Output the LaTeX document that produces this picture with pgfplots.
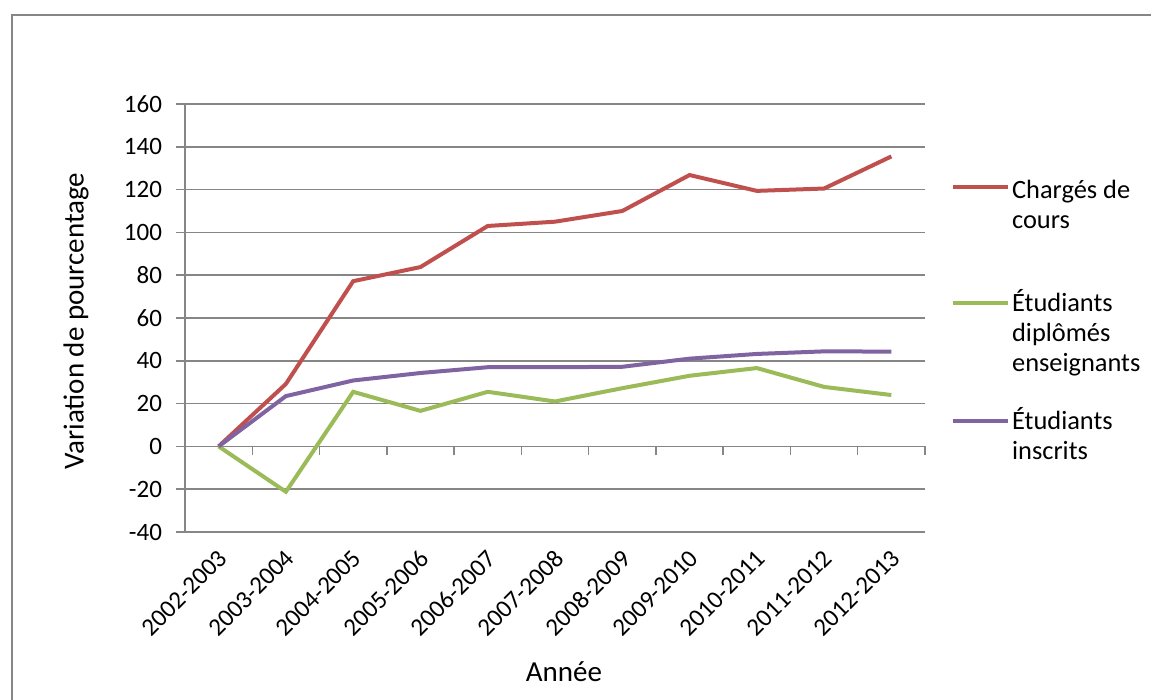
\documentclass[border=0pt]{standalone}
\usepackage{pgfplots}
\pgfplotsset{compat=1.18}
\usepackage{pgfplotstable}
\usepackage{fontspec}
\setmainfont{Carlito}
\definecolor{cred}{HTML}{C0504D}
\definecolor{cgreen}{HTML}{9BBB59}
\definecolor{cpurple}{HTML}{8064A2}
\definecolor{cgrid}{HTML}{868686}
\pgfplotstableread{
x red green purple
0 0 0 0
1 29.2 -21.2 23.5
2 77.2 25.5 30.8
3 83.8 16.6 34.3
4 103.0 25.5 37.0
5 105.0 21.0 37.0
6 110.0 27.2 37.2
7 126.8 33.0 41.0
8 119.4 36.6 43.2
9 120.5 27.8 44.4
10 135.5 24.0 44.3
}\datatable
\begin{document}
\begin{tikzpicture}
\useasboundingbox (0,0) rectangle (575.5pt,350pt);
\draw[cgrid, line width=1pt] (6pt,-20pt) -- (6pt,342.5pt) -- (600pt,342.5pt);
\begin{axis}[
  at={(92.5pt,84pt)}, anchor=south west,
  scale only axis, width=370pt, height=214pt,
  xmin=-0.5, xmax=10.5, ymin=-40, ymax=160,
  axis y line=left, axis x line=middle,
  x axis line style={-}, y axis line style={-},
  axis line style={draw=cgrid, line width=0.75pt},
  hide obscured x ticks=false, hide obscured y ticks=false,
  xtick={0,...,10},
  xticklabels={2002-2003,2003-2004,2004-2005,2005-2006,2006-2007,2007-2008,2008-2009,2009-2010,2010-2011,2011-2012,2012-2013},
  minor xtick={-0.5,0.5,...,10.5},
  ytick={-40,-20,...,160},
  minor ytick={-40,-20,...,160},
  major tick length=0pt, minor tick length=4.5pt,
  tick align=outside,
  every tick/.style={draw=cgrid, line width=0.75pt},
  ymajorgrids,
  major grid style={draw=cgrid, line width=0.75pt},
  /pgf/number format/assume math mode=true,
  tick label style={font=\fontsize{12.5}{15}\selectfont, text=black},
  yticklabel style={anchor=east, xshift=-8pt},
  xticklabel style={anchor=east, xshift=4.5pt, yshift=-51.5pt, rotate=45},
  label style={font=\fontsize{14.5}{17}\selectfont},
  ylabel={Variation de pourcentage},
  ylabel style={at={(axis description cs:-0.1473,0.493)}, anchor=center, rotate=0},
  xlabel={Année},
  xlabel style={at={(axis description cs:0.512,-0.327)}, anchor=center},
  clip=false,
]
\addplot[cred, line width=2pt] table[x=x, y=red] {\datatable};
\addplot[cgreen, line width=2pt] table[x=x, y=green] {\datatable};
\addplot[cpurple, line width=2pt] table[x=x, y=purple] {\datatable};
\end{axis}
\begin{scope}[font=\fontsize{13.2}{16}\selectfont]
\draw[cred, line width=2pt] (476.5pt,256.65pt) -- (504pt,256.65pt);
\node[anchor=base west, inner sep=0pt] at (505.85pt,250.85pt) {Chargés de};
\node[anchor=base west, inner sep=0pt] at (505.85pt,235.85pt) {cours};
\draw[cgreen, line width=2pt] (476.5pt,198.35pt) -- (504pt,198.35pt);
\node[anchor=base west, inner sep=0pt] at (505.85pt,194.15pt) {Étudiants};
\node[anchor=base west, inner sep=0pt] at (505.85pt,179.15pt) {diplômés};
\node[anchor=base west, inner sep=0pt] at (505.85pt,164.15pt) {enseignants};
\draw[cpurple, line width=2pt] (476.5pt,139.65pt) -- (504pt,139.65pt);
\node[anchor=base west, inner sep=0pt] at (505.85pt,135.45pt) {Étudiants};
\node[anchor=base west, inner sep=0pt] at (505.85pt,120.45pt) {inscrits};
\end{scope}
\end{tikzpicture}
\end{document}
